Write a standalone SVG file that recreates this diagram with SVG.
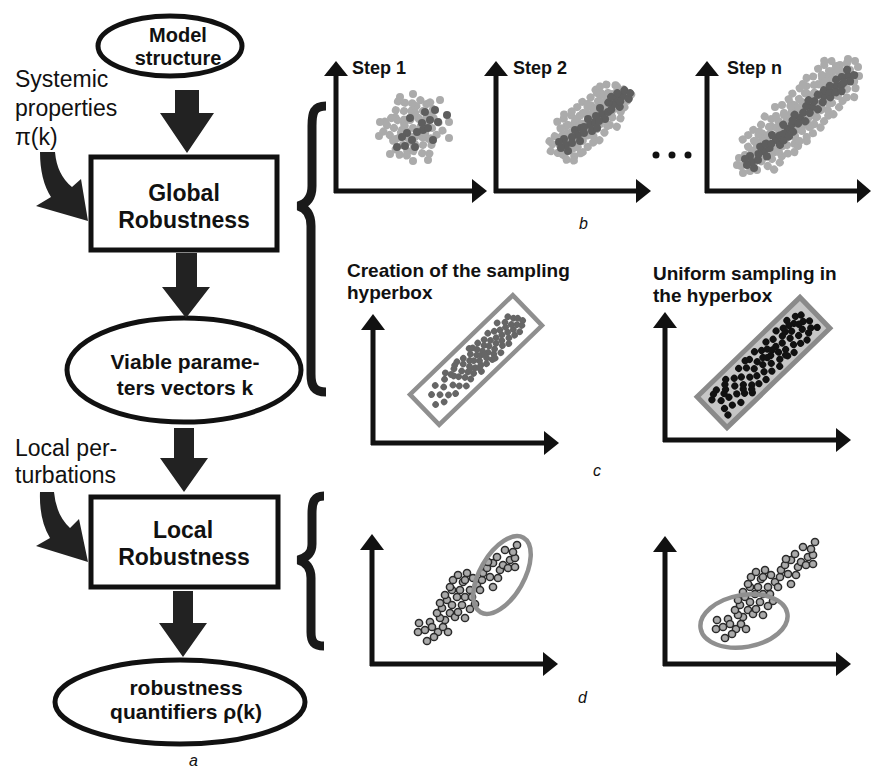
<svg xmlns="http://www.w3.org/2000/svg" width="871" height="769" viewBox="0 0 871 769">
<style>
.t{font-family:"Liberation Sans",Arial,sans-serif;fill:#111}
.b{font-weight:bold}
.m{text-anchor:middle}
.i{font-style:italic;font-size:16px}
.node{fill:#fff;stroke:#111;stroke-width:5}
.arr{fill:#222}
.ax{stroke:#111;stroke-width:5;fill:none}
.axh{fill:#111}
.lt{fill:#ababab}
.dk{fill:#5e5e5e}
.cd{fill:#666}
.bk{fill:#111}
.od{fill:#aaa;stroke:#2a2a2a;stroke-width:1.5}
.br{fill:none;stroke:#1a1a1a;stroke-width:9}
.gr{fill:none;stroke:#8f8f8f;stroke-width:4.5}
</style>
<defs>
<g id="k">
<circle cx="0" cy="0" r="4"/><circle cx="8" cy="-2" r="4"/><circle cx="-7" cy="3" r="4"/><circle cx="2" cy="8" r="4"/><circle cx="-3" cy="-8" r="4"/><circle cx="9" cy="7" r="4"/><circle cx="-9" cy="-5" r="4"/><circle cx="6" cy="-9" r="4"/><circle cx="-5" cy="10" r="4"/><circle cx="-11" cy="2" r="4"/>
</g>
<g id="kd">
<circle cx="0" cy="0" r="4"/><circle cx="6" cy="-2" r="4"/><circle cx="-5" cy="3" r="4"/><circle cx="2" cy="6" r="4"/><circle cx="-2" cy="-6" r="4"/><circle cx="-7" cy="-3" r="4"/>
</g>
<g id="sd" class="od">
<circle cx="419" cy="623" r="3.6"/><circle cx="418" cy="632" r="3.6"/><circle cx="427" cy="641" r="3.6"/><circle cx="430" cy="622" r="3.6"/><circle cx="432" cy="627" r="3.6"/><circle cx="425" cy="630" r="3.6"/><circle cx="438" cy="632" r="3.6"/><circle cx="443" cy="627" r="3.6"/><circle cx="448" cy="632" r="3.6"/><circle cx="445" cy="620" r="3.6"/><circle cx="440" cy="618" r="3.6"/><circle cx="437" cy="613" r="3.6"/><circle cx="442" cy="608" r="3.6"/><circle cx="440" cy="603" r="3.6"/><circle cx="447" cy="600" r="3.6"/><circle cx="452" cy="605" r="3.6"/><circle cx="450" cy="613" r="3.6"/><circle cx="455" cy="617" r="3.6"/><circle cx="458" cy="612" r="3.6"/><circle cx="465" cy="618" r="3.6"/><circle cx="462" cy="605" r="3.6"/><circle cx="457" cy="597" r="3.6"/><circle cx="452" cy="590" r="3.6"/><circle cx="450" cy="587" r="3.6"/><circle cx="460" cy="590" r="3.6"/><circle cx="465" cy="597" r="3.6"/><circle cx="463" cy="582" r="3.6"/><circle cx="467" cy="573" r="3.6"/><circle cx="465" cy="580" r="3.6"/><circle cx="470" cy="590" r="3.6"/><circle cx="473" cy="578" r="3.6"/><circle cx="477" cy="585" r="3.6"/><circle cx="472" cy="597" r="3.6"/><circle cx="475" cy="604" r="3.6"/><circle cx="480" cy="590" r="3.6"/><circle cx="482" cy="580" r="3.6"/><circle cx="483" cy="573" r="3.6"/><circle cx="487" cy="568" r="3.6"/><circle cx="493" cy="563" r="3.6"/><circle cx="490" cy="577" r="3.6"/><circle cx="493" cy="587" r="3.6"/><circle cx="498" cy="578" r="3.6"/><circle cx="500" cy="570" r="3.6"/><circle cx="503" cy="565" r="3.6"/><circle cx="505" cy="550" r="3.6"/><circle cx="510" cy="560" r="3.6"/><circle cx="508" cy="568" r="3.6"/><circle cx="515" cy="567" r="3.6"/><circle cx="515" cy="558" r="3.6"/><circle cx="513" cy="552" r="3.6"/><circle cx="517" cy="545" r="3.6"/><circle cx="497" cy="557" r="3.6"/><circle cx="488" cy="562" r="3.6"/><circle cx="453" cy="580" r="3.6"/><circle cx="458" cy="575" r="3.6"/><circle cx="434" cy="637" r="3.6"/><circle cx="445" cy="595" r="3.6"/><circle cx="470" cy="609" r="3.6"/>
</g>
</defs>

<g id="n-model">
<ellipse class="node" cx="170" cy="46" rx="72" ry="30" stroke-width="4.5"/>
<text class="t b m" x="178" y="42" font-size="20">Model</text>
<text class="t b m" x="178" y="65" font-size="20">structure</text>
</g>
<g id="n-global">
<rect class="node" x="91" y="157" width="186" height="93"/>
<text class="t b m" x="184" y="201" font-size="23">Global</text>
<text class="t b m" x="184" y="228" font-size="23">Robustness</text>
</g>
<g id="n-viable">
<ellipse class="node" cx="184" cy="370" rx="117" ry="52"/>
<text class="t b m" x="185" y="369" font-size="21">Viable parame-</text>
<text class="t b m" x="185" y="395" font-size="21">ters vectors k</text>
</g>
<g id="n-local">
<rect class="node" x="91" y="497" width="187" height="90"/>
<text class="t b m" x="183" y="538" font-size="23">Local</text>
<text class="t b m" x="184" y="565" font-size="23">Robustness</text>
</g>
<g id="n-quant">
<ellipse class="node" cx="180" cy="702" rx="125" ry="42"/>
<text class="t b m" x="186" y="695" font-size="21">robustness</text>
<text class="t b m" x="186" y="719" font-size="21">quantifiers ρ(k)</text>
</g>
<g id="n-systemic">
<text class="t" x="15" y="87" font-size="23">Systemic</text>
<text class="t" x="15" y="116" font-size="23">properties</text>
<text class="t" x="15" y="145" font-size="23">π(k)</text>
</g>
<g id="n-localpert">
<text class="t" x="15" y="456" font-size="23">Local per-</text>
<text class="t" x="15" y="483" font-size="23">turbations</text>
</g>
<text class="t i" x="189" y="766">a</text>

<g id="connectors">
<polygon class="arr" points="175,90 199,90 199,113 214,113 187,153 160,113 175,113"/>
<polygon class="arr" points="176,253 197,253 197,287 210,287 186,318 162,287 176,287"/>
<polygon class="arr" points="174,428 194,428 194,458 208,458 184,492 160,458 174,458"/>
<polygon class="arr" points="173,591 193,591 193,623 207,623 183,657 159,623 173,623"/>
<path class="arr" d="M40 152 L55 152 Q57 175 72 187 L81 179 L88 221 L36 206 L51 197 Q40 180 40 152 Z"/>
<path class="arr" d="M40 492 L54 492 Q56 515 70 528 L79 519 L88 562 L36 546 L50 538 Q39 520 40 492 Z"/>
<path class="br" d="M326 106 C314 106 312 112 312 126 L312 186 C312 198 306 204 298 206 C306 208 311 214 311 226 L311 374 C311 386 314 392 326 392"/>
<path class="br" d="M324 496 C314 496 312 502 312 514 L312 544 C312 554 306 558 298 560 C306 562 311 568 311 578 L311 632 C311 642 314 646 324 646"/>
</g>

<g id="panel-b">
<path class="ax" d="M336 75 V193 M334 191 H472"/>
<polygon class="axh" points="324,76 336,61 348,76"/><polygon class="axh" points="472,179 487,191 472,203"/>
<path class="ax" d="M496 75 V193 M494 191 H636"/>
<polygon class="axh" points="484,76 496,61 508,76"/><polygon class="axh" points="636,179 651,191 636,203"/>
<path class="ax" d="M707 75 V193 M705 191 H858"/>
<polygon class="axh" points="695,76 707,61 719,76"/><polygon class="axh" points="857,179 871,191 857,203"/>
<text class="t b" x="352" y="74" font-size="18">Step 1</text>
<text class="t b" x="513" y="74" font-size="18">Step 2</text>
<text class="t b" x="727" y="74" font-size="18">Step n</text>
<g class="lt">
<use href="#k" transform="translate(413 128) rotate(0)"/><use href="#k" transform="translate(432 128) rotate(70)"/><use href="#k" transform="translate(423 111) rotate(140)"/>
<use href="#k" transform="translate(404 111) rotate(200)"/><use href="#k" transform="translate(394 128) rotate(45)"/><use href="#k" transform="translate(403 145) rotate(260)"/>
<use href="#k" transform="translate(423 145) rotate(110)"/>
<circle cx="380" cy="122" r="4"/><circle cx="379" cy="136" r="4"/><circle cx="449" cy="122" r="4"/><circle cx="449" cy="138" r="4"/><circle cx="413" cy="94" r="4"/><circle cx="400" cy="97" r="4"/><circle cx="413" cy="161" r="4"/><circle cx="428" cy="160" r="4"/><circle cx="390" cy="154" r="4"/><circle cx="440" cy="100" r="4"/>
<use href="#k" transform="translate(560 145) rotate(30)"/><use href="#k" transform="translate(575 133) rotate(100)"/><use href="#k" transform="translate(590 121) rotate(170)"/><use href="#k" transform="translate(605 109) rotate(240)"/><use href="#k" transform="translate(620 97) rotate(310)"/>
<use href="#k" transform="translate(568 125) rotate(80)"/><use href="#k" transform="translate(583 113) rotate(150)"/><use href="#k" transform="translate(598 101) rotate(220)"/><use href="#k" transform="translate(608 93) rotate(10)"/>
<use href="#k" transform="translate(570 150) rotate(260)"/><use href="#k" transform="translate(582 141) rotate(330)"/><use href="#k" transform="translate(597 129) rotate(40)"/><use href="#k" transform="translate(612 117) rotate(120)"/>
<use href="#k" transform="translate(748 163) rotate(0)"/><use href="#k" transform="translate(763 150) rotate(60)"/><use href="#k" transform="translate(778 136) rotate(120)"/><use href="#k" transform="translate(793 122) rotate(180)"/><use href="#k" transform="translate(808 108) rotate(240)"/><use href="#k" transform="translate(823 94) rotate(300)"/><use href="#k" transform="translate(838 80) rotate(30)"/><use href="#k" transform="translate(850 70) rotate(90)"/>
<use href="#k" transform="translate(754 141) rotate(150)"/><use href="#k" transform="translate(769 127) rotate(210)"/><use href="#k" transform="translate(784 113) rotate(270)"/><use href="#k" transform="translate(799 99) rotate(330)"/><use href="#k" transform="translate(814 85) rotate(15)"/><use href="#k" transform="translate(829 71) rotate(75)"/>
<use href="#k" transform="translate(772 159) rotate(135)"/><use href="#k" transform="translate(787 145) rotate(195)"/><use href="#k" transform="translate(802 131) rotate(255)"/><use href="#k" transform="translate(817 117) rotate(315)"/><use href="#k" transform="translate(832 103) rotate(45)"/><use href="#k" transform="translate(847 89) rotate(105)"/>
</g>
<g class="dk">
<circle cx="397" cy="147" r="4"/><circle cx="405" cy="146" r="4"/><circle cx="415" cy="147" r="4"/><circle cx="410" cy="118" r="4"/><circle cx="422" cy="123" r="4"/><circle cx="425" cy="112" r="4"/><circle cx="435" cy="110" r="4"/><circle cx="447" cy="115" r="4"/><circle cx="433" cy="140" r="4"/><circle cx="423" cy="130" r="4"/><circle cx="417" cy="132" r="4"/><circle cx="407" cy="133" r="4"/><circle cx="402" cy="137" r="4"/><circle cx="430" cy="120" r="4"/><circle cx="438" cy="122" r="4"/><circle cx="412" cy="140" r="4"/><circle cx="428" cy="128" r="4"/>
<use href="#kd" transform="translate(566 145) rotate(0)"/><use href="#kd" transform="translate(578 135) rotate(90)"/><use href="#kd" transform="translate(590 125) rotate(180)"/><use href="#kd" transform="translate(602 114) rotate(270)"/><use href="#kd" transform="translate(614 104) rotate(45)"/><use href="#kd" transform="translate(623 96) rotate(135)"/>
<use href="#kd" transform="translate(752 162) rotate(0)"/><use href="#kd" transform="translate(764 151) rotate(80)"/><use href="#kd" transform="translate(776 140) rotate(160)"/><use href="#kd" transform="translate(788 129) rotate(240)"/><use href="#kd" transform="translate(800 118) rotate(320)"/><use href="#kd" transform="translate(812 107) rotate(40)"/><use href="#kd" transform="translate(824 96) rotate(120)"/><use href="#kd" transform="translate(836 86) rotate(200)"/><use href="#kd" transform="translate(848 76) rotate(280)"/>
</g>
<circle class="bk" cx="656" cy="155" r="3.5"/><circle class="bk" cx="672" cy="155" r="3.5"/><circle class="bk" cx="688" cy="155" r="3.5"/>
<text class="t i" x="579" y="229">b</text>
</g>

<g id="panel-c">
<path class="ax" d="M373 329 V445 M371 443 H544"/>
<polygon class="axh" points="361,330 373,314 385,330"/><polygon class="axh" points="544,431 559,443 544,455"/>
<path class="ax" d="M665 327 V442 M663 440 H836"/>
<polygon class="axh" points="653,328 665,312 677,328"/><polygon class="axh" points="836,428 851,440 836,452"/>
<text class="t b" x="347" y="277" font-size="19">Creation of the sampling</text>
<text class="t b" x="347" y="299" font-size="19">hyperbox</text>
<text class="t b" x="653" y="280" font-size="19">Uniform sampling in</text>
<text class="t b" x="653" y="302" font-size="19">the hyperbox</text>
<g transform="translate(476 360) rotate(-44)">
<rect class="gr" x="-71.5" y="-21" width="143" height="42"/>
<g class="cd">
<circle cx="-60" cy="4" r="3.3"/><circle cx="-56" cy="-6" r="3.3"/><circle cx="-52" cy="8" r="3.3"/><circle cx="-50" cy="0" r="3.3"/><circle cx="-47" cy="-10" r="3.3"/><circle cx="-44" cy="6" r="3.3"/><circle cx="-42" cy="-3" r="3.3"/><circle cx="-38" cy="10" r="3.3"/><circle cx="-36" cy="-8" r="3.3"/><circle cx="-34" cy="2" r="3.3"/><circle cx="-31" cy="-12" r="3.3"/><circle cx="-30" cy="7" r="3.3"/><circle cx="-27" cy="-4" r="3.3"/><circle cx="-25" cy="12" r="3.3"/><circle cx="-24" cy="0" r="3.3"/><circle cx="-22" cy="-9" r="3.3"/><circle cx="-20" cy="5" r="3.3"/><circle cx="-18" cy="-2" r="3.3"/><circle cx="-17" cy="10" r="3.3"/><circle cx="-15" cy="-12" r="3.3"/><circle cx="-14" cy="3" r="3.3"/><circle cx="-12" cy="-6" r="3.3"/><circle cx="-11" cy="8" r="3.3"/><circle cx="-9" cy="0" r="3.3"/><circle cx="-8" cy="-10" r="3.3"/><circle cx="-6" cy="5" r="3.3"/><circle cx="-5" cy="-4" r="3.3"/><circle cx="-4" cy="12" r="3.3"/><circle cx="-2" cy="-1" r="3.3"/><circle cx="0" cy="7" r="3.3"/><circle cx="0" cy="-8" r="3.3"/><circle cx="2" cy="3" r="3.3"/><circle cx="3" cy="-13" r="3.3"/><circle cx="4" cy="-3" r="3.3"/><circle cx="5" cy="10" r="3.3"/><circle cx="7" cy="0" r="3.3"/><circle cx="8" cy="-7" r="3.3"/><circle cx="9" cy="6" r="3.3"/><circle cx="11" cy="-2" r="3.3"/><circle cx="12" cy="11" r="3.3"/><circle cx="13" cy="-11" r="3.3"/><circle cx="14" cy="3" r="3.3"/><circle cx="16" cy="-5" r="3.3"/><circle cx="17" cy="8" r="3.3"/><circle cx="19" cy="-1" r="3.3"/><circle cx="20" cy="-9" r="3.3"/><circle cx="21" cy="5" r="3.3"/><circle cx="23" cy="12" r="3.3"/><circle cx="24" cy="-4" r="3.3"/><circle cx="26" cy="2" r="3.3"/><circle cx="27" cy="-11" r="3.3"/><circle cx="29" cy="8" r="3.3"/><circle cx="30" cy="-2" r="3.3"/><circle cx="32" cy="4" r="3.3"/><circle cx="33" cy="-8" r="3.3"/><circle cx="35" cy="11" r="3.3"/><circle cx="36" cy="0" r="3.3"/><circle cx="38" cy="-5" r="3.3"/><circle cx="39" cy="7" r="3.3"/><circle cx="41" cy="-12" r="3.3"/><circle cx="42" cy="2" r="3.3"/><circle cx="44" cy="-3" r="3.3"/><circle cx="45" cy="9" r="3.3"/><circle cx="47" cy="-7" r="3.3"/><circle cx="48" cy="4" r="3.3"/><circle cx="50" cy="-1" r="3.3"/><circle cx="51" cy="10" r="3.3"/><circle cx="53" cy="-9" r="3.3"/><circle cx="54" cy="3" r="3.3"/><circle cx="56" cy="-4" r="3.3"/><circle cx="57" cy="7" r="3.3"/><circle cx="59" cy="-1" r="3.3"/><circle cx="61" cy="4" r="3.3"/><circle cx="-28" cy="-7" r="3.3"/><circle cx="-10" cy="2" r="3.3"/><circle cx="-3" cy="8" r="3.3"/><circle cx="6" cy="-11" r="3.3"/><circle cx="15" cy="12" r="3.3"/><circle cx="-19" cy="-11" r="3.3"/><circle cx="10" cy="2" r="3.3"/>
</g>
</g>
<g transform="translate(763.5 362.5) rotate(-44)">
<rect x="-71.5" y="-21.5" width="143" height="43" fill="#c6c6c6" stroke="#8a8a8a" stroke-width="5"/>
<g class="bk">
<circle cx="-63" cy="-9" r="3.5"/><circle cx="-60" cy="6" r="3.5"/><circle cx="-62" cy="13" r="3.5"/><circle cx="-57" cy="-2" r="3.5"/><circle cx="-53" cy="-13" r="3.5"/><circle cx="-52" cy="9" r="3.5"/><circle cx="-49" cy="1" r="3.5"/><circle cx="-46" cy="-7" r="3.5"/><circle cx="-44" cy="13" r="3.5"/><circle cx="-41" cy="4" r="3.5"/><circle cx="-39" cy="-14" r="3.5"/><circle cx="-37" cy="-3" r="3.5"/><circle cx="-35" cy="9" r="3.5"/><circle cx="-32" cy="-9" r="3.5"/><circle cx="-30" cy="2" r="3.5"/><circle cx="-29" cy="14" r="3.5"/><circle cx="-26" cy="-5" r="3.5"/><circle cx="-24" cy="8" r="3.5"/><circle cx="-22" cy="-13" r="3.5"/><circle cx="-20" cy="1" r="3.5"/><circle cx="-18" cy="12" r="3.5"/><circle cx="-16" cy="-8" r="3.5"/><circle cx="-14" cy="5" r="3.5"/><circle cx="-11" cy="-2" r="3.5"/><circle cx="-10" cy="14" r="3.5"/><circle cx="-8" cy="-12" r="3.5"/><circle cx="-6" cy="7" r="3.5"/><circle cx="-4" cy="-5" r="3.5"/><circle cx="-2" cy="1" r="3.5"/><circle cx="0" cy="12" r="3.5"/><circle cx="1" cy="-14" r="3.5"/><circle cx="3" cy="-4" r="3.5"/><circle cx="5" cy="6" r="3.5"/><circle cx="7" cy="-10" r="3.5"/><circle cx="9" cy="14" r="3.5"/><circle cx="10" cy="0" r="3.5"/><circle cx="12" cy="-7" r="3.5"/><circle cx="14" cy="9" r="3.5"/><circle cx="16" cy="-13" r="3.5"/><circle cx="18" cy="3" r="3.5"/><circle cx="20" cy="-3" r="3.5"/><circle cx="22" cy="12" r="3.5"/><circle cx="23" cy="-10" r="3.5"/><circle cx="25" cy="6" r="3.5"/><circle cx="27" cy="-1" r="3.5"/><circle cx="29" cy="14" r="3.5"/><circle cx="31" cy="-14" r="3.5"/><circle cx="32" cy="-6" r="3.5"/><circle cx="34" cy="8" r="3.5"/><circle cx="36" cy="1" r="3.5"/><circle cx="38" cy="-11" r="3.5"/><circle cx="40" cy="12" r="3.5"/><circle cx="42" cy="-3" r="3.5"/><circle cx="44" cy="5" r="3.5"/><circle cx="46" cy="-14" r="3.5"/><circle cx="47" cy="14" r="3.5"/><circle cx="49" cy="-7" r="3.5"/><circle cx="51" cy="3" r="3.5"/><circle cx="53" cy="10" r="3.5"/><circle cx="55" cy="-11" r="3.5"/><circle cx="57" cy="-2" r="3.5"/><circle cx="58" cy="8" r="3.5"/><circle cx="60" cy="-8" r="3.5"/><circle cx="62" cy="2" r="3.5"/><circle cx="63" cy="12" r="3.5"/><circle cx="-58" cy="-12" r="3.5"/><circle cx="-43" cy="-11" r="3.5"/><circle cx="-27" cy="11" r="3.5"/><circle cx="-12" cy="-14" r="3.5"/><circle cx="6" cy="-1" r="3.5"/><circle cx="21" cy="10" r="3.5"/><circle cx="37" cy="-7" r="3.5"/><circle cx="52" cy="-3" r="3.5"/><circle cx="-50" cy="-5" r="3.5"/><circle cx="15" cy="-3" r="3.5"/><circle cx="-33" cy="5" r="3.5"/><circle cx="44" cy="-9" r="3.5"/>
</g>
</g>
<text class="t i" x="593" y="476">c</text>
</g>

<g id="panel-d">
<path class="ax" d="M372 549 V666 M370 664 H543"/>
<polygon class="axh" points="360,550 372,534 384,550"/><polygon class="axh" points="543,652 558,664 543,676"/>
<path class="ax" d="M665 551 V666 M663 664 H836"/>
<polygon class="axh" points="653,552 665,536 677,552"/><polygon class="axh" points="836,652 851,664 836,676"/>
<use href="#sd"/>
<ellipse class="gr" cx="502" cy="575" rx="43" ry="22" transform="rotate(-60 502 575)"/>
<use href="#sd" transform="translate(298 -3)"/>
<ellipse class="gr" cx="744" cy="621" rx="44" ry="26" transform="rotate(-10 744 621)"/>
<text class="t i" x="578" y="703">d</text>
</g>
</svg>
